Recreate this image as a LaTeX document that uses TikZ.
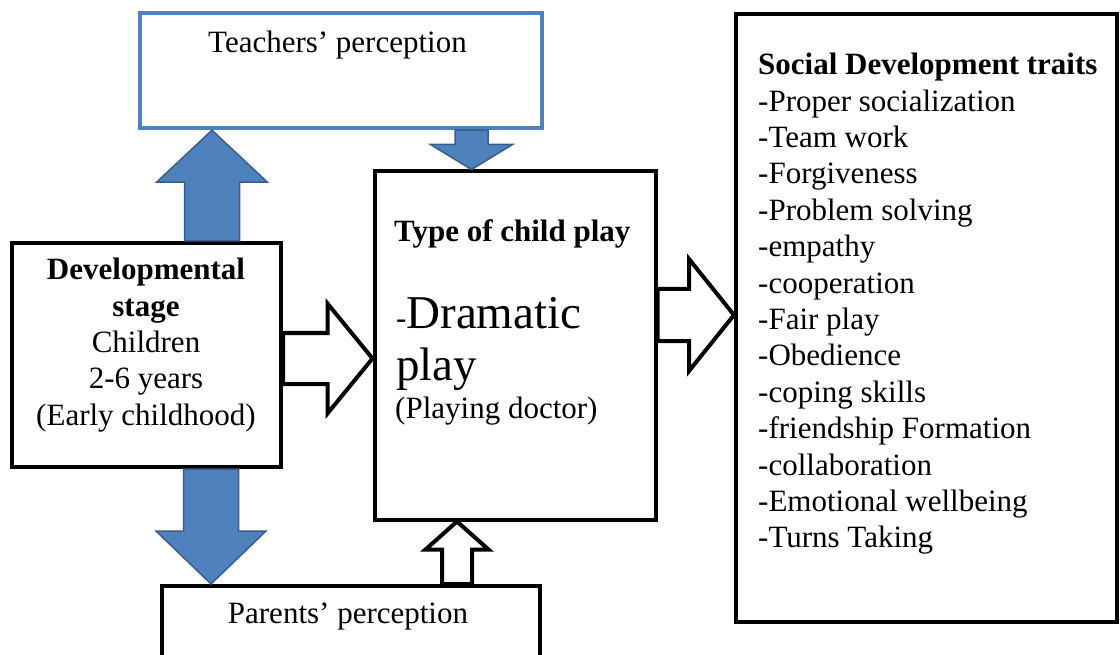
\documentclass[tikz,border=0pt]{standalone}
\usepackage{fontspec}
\setmainfont{Liberation Serif}
\usetikzlibrary{calc}
\definecolor{tpblue}{RGB}{79,129,189}
\definecolor{tpedge}{RGB}{56,93,138}
\tikzset{
	txt/.style={font=\fontsize{31}{36.4}\selectfont},
	bigtxt/.style={font=\fontsize{47}{52}\selectfont},
	blackbox/.style={draw=black, line width=4pt},
	bluebox/.style={draw=tpblue, line width=4.5pt},
	bluearrow/.style={fill=tpblue, draw=tpedge, line width=1.5pt, line join=miter},
	whitearrow/.style={fill=white, draw=black, line width=4pt, line join=miter}
}
\newcommand{\blockarrow}[6][]{%
	\coordinate (ba-s) at (#2);
	\coordinate (ba-t) at (#3);
	\coordinate (ba-h) at ($(ba-t)!#6!(ba-s)$);
	\draw [#1] ($(ba-s)!#4!90:(ba-t)$) -- ($(ba-h)!#4!90:(ba-t)$) -- ($(ba-h)!#5!90:(ba-t)$) -- (ba-t) -- ($(ba-h)!#5!-90:(ba-t)$) -- ($(ba-h)!#4!-90:(ba-t)$) -- ($(ba-s)!#4!-90:(ba-t)$) -- cycle;}

\begin{document}
\begin{tikzpicture}[x=1pt,y=1pt]
		\tikzstyle{every node}+=[inner sep=0pt]
		\useasboundingbox (0,0) rectangle (1120,-655);
		\node [bluebox, minimum width=402pt, minimum height=115pt] (teach) at (341,-70.5) {};
		\node [txt, anchor=base] (teachtxt) at (337.5,-53) {Teachers’ perception};
		\node [blackbox, minimum width=269pt, minimum height=224pt] (dev) at (146.5,-355) {};
		\node [txt, anchor=north, align=center] (devtxt) at (146,-258) {\textbf{Developmental}\\\textbf{stage}\\Children\\2-6 years\\(Early childhood)};
		\node [blackbox, minimum width=281pt, minimum height=348pt] (play) at (515,-345.5) {};
		\node [txt, anchor=base west] (playhead) at (394,-242) {\textbf{Type of child play}};
		\node [bigtxt, anchor=base west] (dramatic) at (396,-328) {{\fontsize{31}{36}\selectfont -}Dramatic};
		\node [bigtxt, anchor=base west] (playword) at (396,-380) {play};
		\node [txt, anchor=base west] (doctor) at (395,-418) {(Playing doctor)};
		\node [blackbox, minimum width=378pt, minimum height=104pt] (parents) at (351,-638) {};
		\node [txt, anchor=base] (partxt) at (348,-623) {Parents’ perception};
		\node [blackbox, minimum width=381pt, minimum height=607.5pt] (traits) at (926.5,-318.25) {};
		\node [txt, anchor=north west, align=left] (traitstxt) at (758,-53) {\textbf{Social Development traits}\\-Proper socialization\\-Team work\\-Forgiveness\\-Problem solving\\-empathy\\-cooperation\\-Fair play\\-Obedience\\-coping skills\\-friendship Formation\\-collaboration\\-Emotional wellbeing\\-Turns Taking};
		\blockarrow[bluearrow]{dev.north -| 212,0}{teach.south -| 212,0}{27.5pt}{55.5pt}{52pt}
		\blockarrow[bluearrow]{dev.south -| 211,0}{parents.north -| 211,0}{27.5pt}{55pt}{53pt}
		\blockarrow[bluearrow]{teach.south -| 471.5,0}{play.north -| 471.5,0}{16.5pt}{41pt}{25pt}
		\blockarrow[whitearrow]{parents.north -| 457,0}{play.south -| 457,0}{15pt}{31.5pt}{28pt}
		\blockarrow[whitearrow]{dev.east |- 0,-358.5}{play.west |- 0,-358.5}{25.5pt}{55pt}{45pt}
		\blockarrow[whitearrow]{play.east |- 0,-315}{traits.west |- 0,-315}{26pt}{56pt}{45pt}
\end{tikzpicture}
\end{document}
